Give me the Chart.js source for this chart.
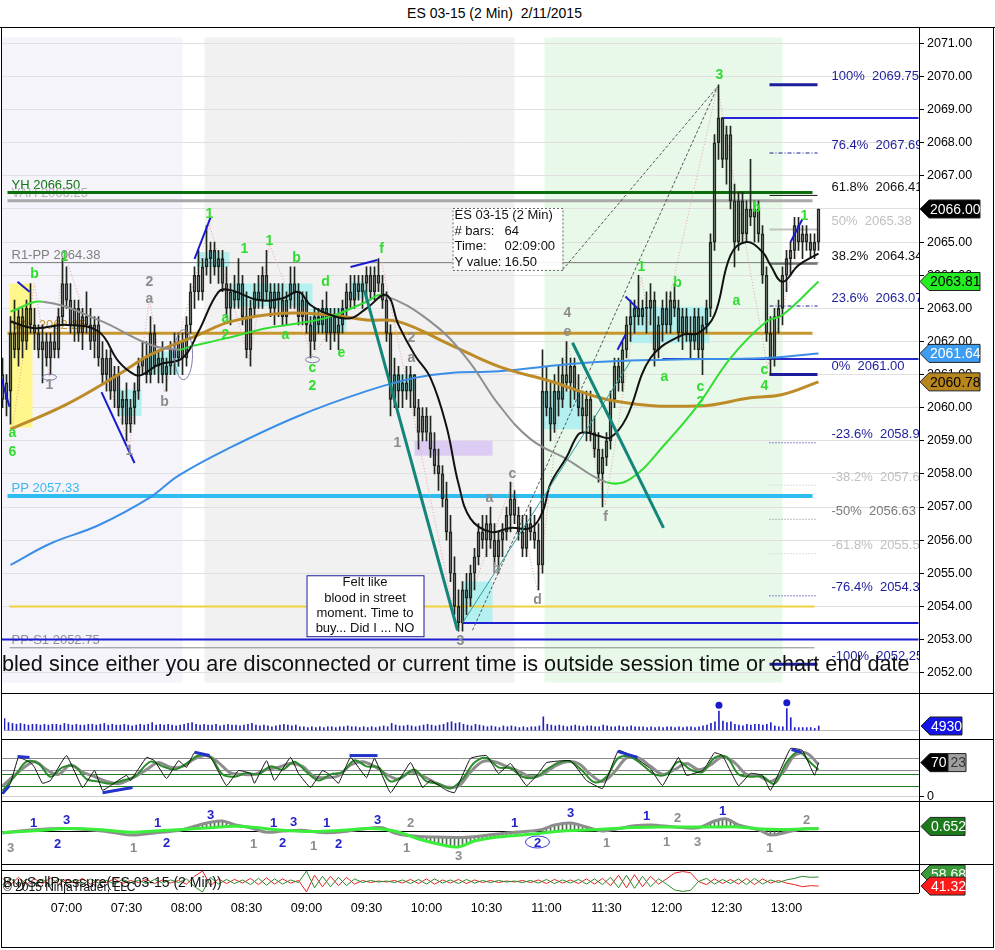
<!DOCTYPE html>
<html>
<head>
<meta charset="utf-8">
<title>ES 03-15 (2 Min) 2/11/2015</title>
<script src="https://cdn.jsdelivr.net/npm/chart.js@4.4.1/dist/chart.umd.min.js"></script>
<style>
  body { margin: 0; background: #fff; font-family: "Liberation Sans", Arial, sans-serif; }
  #wrap { position: relative; width: 995px; height: 950px; overflow: hidden; }
  canvas { position: absolute; left: 0; }
  .h { position: absolute; height: 1px; background: #000; z-index: 5; }
  .v { position: absolute; width: 1px; background: #000; z-index: 5; }
  #title { position: absolute; top: 5px; left: 0; width: 989px; text-align: center; font-size: 14px; color: #000; }
</style>
</head>
<body>
<div id="wrap">
  <div id="title">ES 03-15 (2 Min)&nbsp;&nbsp;2/11/2015</div>
  <canvas id="cPrice" width="995" height="666" style="top:27px;width:995px;height:666px"></canvas>
  <canvas id="cVol" width="995" height="46" style="top:693px;width:995px;height:46px"></canvas>
  <canvas id="cStoch" width="995" height="62" style="top:739px;width:995px;height:62px"></canvas>
  <canvas id="cMacd" width="995" height="63" style="top:801px;width:995px;height:63px"></canvas>
  <canvas id="cBsp" width="995" height="84" style="top:864px;width:995px;height:84px"></canvas>
  <div class="h" style="top:27px;left:0;width:995px"></div>
  <div class="h" style="top:693px;left:1px;width:993px"></div>
  <div class="h" style="top:739px;left:1px;width:993px"></div>
  <div class="h" style="top:801px;left:1px;width:993px"></div>
  <div class="h" style="top:864px;left:1px;width:993px"></div>
  <div class="h" style="top:870px;left:1px;width:918px"></div>
  <div class="h" style="top:893px;left:1px;width:918px"></div>
  <div class="h" style="top:947px;left:1px;width:993px"></div>
  <div class="v" style="left:1px;top:27px;height:921px"></div>
  <div class="v" style="left:993px;top:27px;height:921px"></div>
  <div class="v" style="left:919px;top:27px;height:866px"></div>
</div>
<script>
// ES 03-15 2 min chart, 2/11/2015 - bar index 0 = 06:28, one bar every 2 minutes

// ---------- axis data ----------
const timeLabels = ['07:00', '07:30', '08:00', '08:30', '09:00', '09:30', '10:00', '10:30', '11:00', '11:30', '12:00', '12:30', '13:00'];
const timeBars = [16, 31, 46, 61, 76, 91, 106, 121, 136, 151, 166, 181, 196];
const priceTicks = [2052, 2053, 2054, 2055, 2056, 2057, 2058, 2059, 2060, 2061, 2062, 2063, 2064, 2065, 2066, 2067, 2068, 2069, 2070, 2071];

// ---------- price bars ----------
const opens = [
  2061, 2060.25, 2060.5, 2062.25, 2061.75, 2062.75, 2062, 2063, 2062.5, 2062.25,
  2061.75, 2062, 2061.5, 2062, 2061.75, 2062.75, 2063.75, 2063.25, 2062.5, 2063,
  2062.25, 2062.75, 2062.5, 2062, 2062.5, 2061.5, 2061, 2061.5, 2060.5, 2061,
  2060, 2060.25, 2059.5, 2060, 2060.5, 2061.25, 2061.5, 2061, 2062.25, 2061.25,
  2061.5, 2061, 2061.25, 2061.75, 2061.5, 2062, 2061.5, 2062.5, 2063.5, 2064,
  2063.5, 2064.25, 2064.5, 2064.75, 2064.25, 2064.5, 2063.75, 2063, 2063.5, 2063.25,
  2063.75, 2062.75, 2061.75, 2063, 2063.5, 2063.25, 2064, 2063.5, 2063, 2063.5,
  2063.25, 2062.75, 2063.25, 2063.75, 2063.5, 2062.75, 2063.25, 2062.5, 2062, 2062.75,
  2062.5, 2063, 2062.25, 2062.75, 2062.25, 2062.5, 2063, 2063.5, 2063.25, 2063.75,
  2063.5, 2063.75, 2064, 2063.5, 2064, 2063.75, 2063.25, 2062.25, 2060.25, 2061,
  2060.5, 2060.75, 2060.5, 2061, 2060, 2059.25, 2059.75, 2059.25, 2058.75, 2058.25,
  2058, 2057.25, 2056.25, 2055, 2054, 2053.5, 2054.5, 2054.25, 2055, 2055.5,
  2056.25, 2056, 2056.5, 2056, 2055.5, 2056, 2056.25, 2056.75, 2057.25, 2056.75,
  2056.25, 2055.75, 2056.5, 2056.25, 2056, 2055.25, 2060.5, 2060, 2059.5, 2060.5,
  2060.25, 2061, 2060.75, 2061.25, 2060.5, 2060, 2059.75, 2060.25, 2059.25, 2058.75,
  2058, 2058.5, 2059, 2060.25, 2061.25, 2060.75, 2061.75, 2062.5, 2062.75, 2063,
  2062.75, 2063, 2063, 2063.25, 2061.75, 2062.5, 2063, 2062.5, 2063.25, 2063,
  2062.25, 2062.75, 2062.25, 2062, 2062.75, 2061.75, 2062.5, 2063, 2065, 2068,
  2068.75, 2067.5, 2068.25, 2066.25, 2065, 2066.25, 2065.25, 2066, 2065.75, 2066,
  2065.25, 2064, 2062.25, 2061.5, 2062.75, 2063, 2064, 2064.5, 2064.75, 2065.5,
  2065, 2065.25, 2065, 2064.75, 2065
];
const highs = [
  2061.5, 2061, 2062.75, 2063.25, 2063, 2063, 2063.25, 2063.75, 2063, 2062.5,
  2062.5, 2062.25, 2062.25, 2062.5, 2063, 2064.5, 2064.25, 2063.75, 2063.25, 2063.25,
  2063, 2063.5, 2063, 2062.75, 2062.75, 2062, 2061.75, 2061.75, 2061.25, 2061.25,
  2060.5, 2060.75, 2060.25, 2060.75, 2061.5, 2062, 2062, 2062.75, 2062.5, 2061.75,
  2062, 2061.5, 2062, 2062.25, 2062.25, 2062.25, 2062.75, 2063.75, 2064.25, 2064.75,
  2064.5, 2065.5, 2065, 2065, 2064.75, 2064.75, 2064.25, 2063.75, 2064, 2064.5,
  2064, 2063.5, 2063.25, 2063.75, 2064, 2064.25, 2064.75, 2063.75, 2063.75, 2063.75,
  2063.75, 2063.5, 2064.25, 2064.25, 2063.75, 2063.5, 2063.5, 2062.75, 2063, 2063,
  2063.25, 2063.5, 2063, 2063, 2063, 2063.25, 2063.75, 2064, 2064, 2064,
  2064, 2064.25, 2064.25, 2064.25, 2064.5, 2064, 2063.5, 2062.5, 2061.5, 2061.25,
  2061, 2061.25, 2061.25, 2061, 2060.25, 2060, 2060, 2059.75, 2059.25, 2058.75,
  2058.25, 2057.75, 2056.75, 2055.5, 2054.5, 2054.75, 2055, 2055.25, 2055.75, 2056.5,
  2056.75, 2056.75, 2057, 2056.5, 2056.25, 2056.5, 2057, 2057.75, 2057.5, 2057,
  2056.75, 2056.75, 2057, 2056.75, 2056.5, 2061.75, 2061.25, 2060.75, 2061, 2061.25,
  2061.5, 2062, 2061.5, 2061.5, 2061, 2060.5, 2060.5, 2060.5, 2059.75, 2059.25,
  2058.75, 2059.25, 2060.5, 2061.5, 2061.5, 2062, 2062.75, 2063.25, 2063.25, 2064,
  2063.25, 2063.5, 2063.75, 2063.5, 2062.75, 2063.25, 2063.5, 2063.5, 2063.75, 2063.25,
  2063, 2063, 2062.75, 2063, 2063, 2062.75, 2063.25, 2065.25, 2068.25, 2069.75,
  2068.75, 2068.5, 2068.5, 2066.75, 2066.5, 2066.5, 2066.25, 2067.5, 2066.25, 2066.25,
  2065.5, 2064.25, 2062.75, 2063, 2063.25, 2064.25, 2064.75, 2065, 2065.75, 2065.75,
  2065.5, 2065.5, 2065.25, 2065.25, 2066
];
const lows = [
  2060, 2059.75, 2059.5, 2061.5, 2061.25, 2061.5, 2061.75, 2062.25, 2061.75, 2061.5,
  2060.75, 2061.25, 2061, 2061.5, 2061.5, 2062.5, 2063, 2062.25, 2062, 2062,
  2061.75, 2062.25, 2061.75, 2061.5, 2061.25, 2060.75, 2060.5, 2060.25, 2060, 2059.75,
  2059.5, 2059, 2059.25, 2059.5, 2060.25, 2061, 2060.75, 2060.75, 2061, 2060.75,
  2060.75, 2060.5, 2061, 2061, 2061.25, 2061, 2061.25, 2062.25, 2063, 2063.25,
  2063.25, 2064, 2063.75, 2064, 2063.75, 2063.5, 2062.75, 2062.5, 2063, 2063,
  2062.5, 2061.5, 2061.25, 2062.75, 2063, 2063, 2063.25, 2062.75, 2062.5, 2062.75,
  2062.5, 2062.5, 2063, 2063, 2062.5, 2062.5, 2062.25, 2061.5, 2061.75, 2062.25,
  2062.25, 2062, 2061.75, 2062, 2061.75, 2062.25, 2062.75, 2063, 2063, 2063.25,
  2063, 2063.25, 2063.25, 2063.25, 2063.5, 2063, 2062, 2059.75, 2060, 2060,
  2060, 2060.25, 2060, 2059.75, 2058.75, 2059, 2059, 2058.5, 2058, 2057.5,
  2057, 2056, 2054.75, 2053.75, 2053.25, 2053.25, 2053.75, 2054, 2054.5, 2055.25,
  2055.75, 2055.5, 2055.75, 2055.25, 2055, 2055.5, 2056, 2056.25, 2056.5, 2056,
  2055.5, 2055.5, 2056, 2055.75, 2054.5, 2055, 2059.75, 2059, 2059.25, 2059.75,
  2060, 2060.5, 2060, 2060.25, 2059.75, 2059.25, 2059, 2059, 2058.5, 2057.75,
  2057, 2058.25, 2058.75, 2060, 2060.5, 2060.5, 2061.5, 2062, 2062.25, 2062.5,
  2062.5, 2062.25, 2062.5, 2061.25, 2061.5, 2062, 2062.25, 2062.25, 2062.75, 2062,
  2061.75, 2062, 2061.5, 2061.75, 2061.5, 2061, 2062.25, 2062.75, 2064.75, 2067.5,
  2067.25, 2066.75, 2066, 2064.25, 2064.75, 2065, 2065, 2065.5, 2065, 2065,
  2063.75, 2062, 2061, 2061.25, 2062.25, 2062.5, 2063.5, 2064, 2064.5, 2064.75,
  2064.5, 2064.75, 2064.5, 2064.5, 2064.75
];
const closes = [
  2060.25, 2060.75, 2062.25, 2061.75, 2062.75, 2062, 2063, 2062.5, 2062.25, 2061.75,
  2062, 2061.5, 2062, 2061.75, 2062.75, 2063.75, 2063.25, 2062.5, 2063, 2062.25,
  2062.75, 2062.5, 2062, 2062.5, 2061.5, 2061, 2061.5, 2060.5, 2061, 2060,
  2060.25, 2059.5, 2060, 2060.5, 2061.25, 2061.5, 2061, 2062.25, 2061.25, 2061.5,
  2061, 2061.25, 2061.75, 2061.5, 2062, 2061.5, 2062.5, 2063.5, 2064, 2063.5,
  2064.25, 2064.5, 2064.75, 2064.25, 2064.5, 2063.75, 2063, 2063.5, 2063.25, 2063.75,
  2062.75, 2061.75, 2063, 2063.5, 2063.25, 2064, 2063.5, 2063, 2063.5, 2063.25,
  2062.75, 2063.25, 2063.75, 2063.5, 2062.75, 2063.25, 2062.5, 2062, 2062.75, 2062.5,
  2063, 2062.25, 2062.75, 2062.25, 2062.5, 2063, 2063.5, 2063.25, 2063.75, 2063.5,
  2063.75, 2064, 2063.5, 2064, 2063.75, 2063.25, 2062.25, 2060.25, 2061, 2060.5,
  2060.75, 2060.5, 2061, 2060, 2059.25, 2059.75, 2059.25, 2058.75, 2058.25, 2058,
  2057.25, 2056.25, 2055, 2054, 2053.5, 2054.5, 2054.25, 2055, 2055.5, 2056.25,
  2056, 2056.5, 2056, 2055.5, 2056, 2056.25, 2056.75, 2057.25, 2056.75, 2056.25,
  2055.75, 2056.5, 2056.25, 2056, 2055.25, 2060.5, 2060, 2059.5, 2060.5, 2060.25,
  2061, 2060.75, 2061.25, 2060.5, 2060, 2059.75, 2060.25, 2059.25, 2058.75, 2058,
  2058.5, 2059, 2060.25, 2061.25, 2060.75, 2061.75, 2062.5, 2062.75, 2063, 2062.75,
  2063, 2063, 2063.25, 2061.75, 2062.5, 2063, 2062.5, 2063.25, 2063, 2062.25,
  2062.75, 2062.25, 2062, 2062.75, 2061.75, 2062.5, 2063, 2065, 2068, 2068.75,
  2067.5, 2068.25, 2066.25, 2065, 2066.25, 2065.25, 2066, 2065.75, 2066, 2065.25,
  2064, 2062.25, 2061.5, 2062.75, 2063, 2064, 2064.5, 2064.75, 2065.5, 2065,
  2065.25, 2065, 2064.75, 2065, 2066
];

// ---------- moving averages: [bar, price] ----------
const blackMA = [[2, 2062.6], [8, 2062.4], [16, 2062.5], [24, 2062.3], [29, 2061.4], [33, 2061.0], [35, 2061.0], [39, 2061.3], [45, 2061.5], [49, 2062.3], [54, 2063.5], [57, 2063.55], [64, 2063.25], [70, 2063.3], [74, 2063.5], [77, 2063.1], [82, 2062.8], [87, 2062.7], [91, 2063.0], [96, 2063.4], [99, 2062.5], [103, 2061.6], [107, 2060.9], [111, 2059.43], [114, 2057.7], [117, 2056.65], [122, 2056.25], [127, 2056.37], [132, 2056.37], [135, 2056.85], [137, 2057.7], [141, 2058.5], [144, 2059.2], [146, 2059.25], [149, 2059.15], [152, 2059.1], [156, 2059.7], [162, 2061.5], [170, 2062.2], [174, 2062.25], [178, 2062.8], [182, 2064.6], [186, 2065.0], [190, 2064.7], [192, 2064.3], [195, 2063.8], [199, 2064.3], [204, 2064.65]];
const slopeMA = [[2, 2062.9], [10, 2063.2], [24, 2062.65], [37, 2061.9], [44, 2061.75], [47, 2061.85], [56, 2062.1], [66, 2062.4], [74, 2062.55], [82, 2062.75], [91, 2063.2], [95, 2063.4], [107, 2062.6], [116, 2061.5], [124, 2060.1], [132, 2059.05], [141, 2058.45], [151, 2057.75], [157, 2057.85], [166, 2058.95], [174, 2060.1], [182, 2061.5], [191, 2062.6], [195, 2062.8], [204, 2063.81]];
const goldMA = [[2, 2059.35], [16, 2060.1], [29, 2061.0], [37, 2061.6], [49, 2062.2], [57, 2062.6], [70, 2062.85], [82, 2062.8], [91, 2062.65], [99, 2062.6], [112, 2061.9], [124, 2061.25], [137, 2060.8], [153, 2060.2], [174, 2060.05], [187, 2060.3], [195, 2060.4], [204, 2060.78]];
const blueMA = [[2, 2055.25], [12, 2055.9], [24, 2056.45], [37, 2057.3], [44, 2057.95], [57, 2058.8], [74, 2059.75], [91, 2060.5], [103, 2060.9], [112, 2061.05], [124, 2061.1], [145, 2061.35], [166, 2061.45], [191, 2061.5], [204, 2061.64]];

// ---------- horizontal levels ----------
const levelPrices = [2066.50, 2066.25, 2064.38, 2062.25, 2057.33, 2054.00, 2053.50, 2053.00, 2052.75, 2068.75, 2061.47];
const levelFrom = [1.25, 1.25, 1.75, 1.25, 1.25, 1.75, 115, -0.25, 1.75, 179.75, 165];
const levelTo = [202.5, 202.5, 204, 202.5, 202.5, 203, 229, 229, 203, 229, 229];
const levelText = ['YH 2066.50', 'VAH 2066.25', 'R1-PP 2064.38', 'VAL 2062.25', 'PP 2057.33', '', '', '', 'PP-S1 2052.75', '', ''];

// ---------- fibonacci ----------
const fibPcts = ['100%', '76.4%', '61.8%', '50%', '38.2%', '23.6%', '0%', '-23.6%', '-38.2%', '-50%', '-61.8%', '-76.4%', '-100%'];
const fibPrices = [2069.75, 2067.69, 2066.41, 2065.38, 2064.34, 2063.07, 2061.00, 2058.94, 2057.66, 2056.63, 2055.59, 2054.32, 2052.25];

// ---------- drawn objects: [bar, price, ...] ----------
const zones = [[28.75, 34.75, 2060.55, 2059.75, 'c'], [36, 44.25, 2061.7, 2061.0, 'c'], [48.5, 56.75, 2064.7, 2064.25, 'c'], [56.75, 77.5, 2063.75, 2063.05, 'c'], [76.75, 86, 2063.0, 2062.2, 'c'], [86.75, 91, 2063.8, 2063.3, 'c'], [97.5, 103, 2061.0, 2060.5, 'c'], [135, 145, 2060.5, 2059.35, 'c'], [115, 122.5, 2054.75, 2053.5, 'c'], [156.75, 176.75, 2063.05, 2061.95, 'c'], [103, 122.5, 2059.0, 2058.55, 'p'], [1.75, 7.5, 2063.75, 2059.4, 'y']];
const tealLines = [[90.5, 2063.54, 113.75, 2053.28], [142.5, 2061.96, 165.25, 2056.37]];
const blueLines = [[-0.75, 2061.07, 1.75, 2060.03], [3.75, 2063.8, 6.75, 2063.5], [24.75, 2060.47, 33, 2058.33], [48, 2064.49, 52, 2065.74], [87, 2064.25, 93.75, 2064.46], [155.75, 2063.36, 158.75, 2063.0], [153.75, 2061.75, 155.75, 2062.2], [197, 2065.0, 200, 2065.7]];
const channelLines = [[115, 2053.5, 157, 2061.4]];
const dashedLines = [[117.5, 2053.28, 178.75, 2069.69], [140, 2064.16, 178.75, 2069.69]];
const zigzag = [[2.5, 2059.43], [8, 2063.74], [11.75, 2060.92], [15.5, 2064.64], [31.75, 2058.84], [36.75, 2063.3], [40.5, 2060.47], [51.75, 2065.53], [61.75, 2061.45], [66.75, 2064.93], [77.5, 2061.57], [94.75, 2064.43], [113.75, 2053.28], [127.5, 2057.74], [133.75, 2054.47], [141.25, 2061.96], [150.75, 2057.05], [159.75, 2063.95], [163, 2061.37], [178.75, 2069.69], [191.25, 2061.22], [200.5, 2065.53]];
const ellipseCenters = [[11.75, 2060.92], [45.25, 2061.6], [77.5, 2061.45]];
const waveLabels = [
  [8, 2064.04, 'b', 'g'], [15.5, 2064.55, '1', 'g'], [2.5, 2059.22, 'a', 'g'], [2.5, 2058.66, '6', 'g'],
  [51.75, 2065.83, '1', 'g'], [60.5, 2064.79, '1', 'g'], [66.75, 2065.02, '1', 'g'], [73.5, 2064.52, 'b', 'g'],
  [80.75, 2063.8, 'd', 'g'], [94.75, 2064.79, 'f', 'g'], [55.75, 2062.7, 'a', 'g'], [55.75, 2062.2, '2', 'g'],
  [70.75, 2062.2, 'a', 'g'], [84.75, 2061.66, 'e', 'g'], [77.5, 2061.19, 'c', 'g'], [77.5, 2060.65, '2', 'g'],
  [179.25, 2070.05, '3', 'g'], [159.75, 2064.25, '1', 'g'], [168.75, 2063.77, 'b', 'g'], [165.5, 2060.92, 'a', 'g'],
  [174.5, 2060.62, 'c', 'g'], [174.5, 2060.18, '2', 'g'], [183.5, 2063.21, 'a', 'g'], [188.5, 2066.03, 'b', 'g'],
  [190.5, 2061.13, 'c', 'g'], [190.5, 2060.65, '4', 'g'], [200.5, 2065.77, '1', 'g'],
  [36.75, 2063.8, '2', 'r'], [36.75, 2063.27, 'a', 'r'], [11.75, 2060.68, '1', 'r'], [40.5, 2060.18, 'b', 'r'],
  [31.75, 2058.69, '1', 'r'], [102.25, 2062.11, '2', 'r'], [102.25, 2061.51, 'a', 'r'], [98.75, 2058.93, '1', 'r'],
  [114.5, 2052.95, '3', 'r'], [121.75, 2057.26, 'a', 'r'], [123.5, 2055.12, 'b', 'r'], [127.5, 2058.0, 'c', 'r'],
  [133.75, 2054.2, 'd', 'r'], [141.25, 2062.85, '4', 'r'], [141.25, 2062.29, 'e', 'r'], [150.75, 2056.7, 'f', 'r']
];
const noteBox = [76, 105.25, 2054.94, 2053.10];
const noteLines = ['Felt like', 'blood in street', 'moment. Time to', 'buy... Did I ... NO'];
const infoBox = [112.5, 140, 2066.03, 2064.16];
const infoKeys = ['ES 03-15 (2 Min)', '# bars:', 'Time:', 'Y value:'];
const infoVals = ['', '64', '02:09:00', '16.50'];
const sessionText = 'bled since either you are disconnected or current time is outside session time or chart end date';
const sessionBands = [[-0.25, 45], [50.5, 128], [135.5, 195]];
const priceTags = [2066.00, 2063.81, 2061.64, 2060.78];

// ---------- volume ----------
const volumes = [
  14, 9, 8, 7, 8, 7, 6, 7, 7, 6, 7, 6, 7, 7, 6, 8, 7, 6, 7, 6,
  6, 7, 7, 6, 7, 8, 6, 7, 6, 6, 7, 6, 5, 6, 7, 6, 7, 9, 6, 7,
  6, 7, 6, 5, 6, 7, 8, 9, 7, 6, 7, 6, 6, 7, 5, 6, 7, 6, 6, 5,
  6, 7, 8, 6, 5, 6, 5, 4, 5, 6, 7, 6, 5, 6, 4, 4, 3, 4, 3, 4,
  3, 4, 4, 3, 4, 4, 5, 4, 4, 3, 4, 3, 4, 3, 4, 5, 4, 8, 6, 5,
  5, 6, 5, 4, 5, 6, 7, 6, 5, 6, 7, 9, 10, 8, 9, 7, 6, 5, 7, 6,
  5, 4, 5, 4, 3, 5, 4, 5, 4, 3, 4, 3, 4, 4, 5, 16, 7, 6, 5, 6,
  5, 4, 5, 6, 5, 4, 5, 5, 4, 4, 6, 5, 4, 4, 5, 4, 4, 5, 4, 4,
  4, 3, 4, 3, 4, 3, 4, 4, 3, 4, 3, 4, 4, 3, 4, 5, 6, 8, 10, 23,
  11, 9, 10, 7, 6, 5, 7, 6, 7, 7, 6, 7, 9, 5, 4, 4, 26, 15, 3, 3,
  3, 3, 3, 2, 4.93
];
const volDotBars = [179, 196];
const volDotValues = [30, 33];

// ---------- stochastics: [bar, value] ----------
const stochK = [[0, 4], [2, 26], [4, 81], [7, 70], [8, 60], [10, 26], [12, 32], [16, 85], [20, 17], [23, 53], [25, 11], [27, 21], [31, 43], [32, 32], [36, 81], [38, 74], [41, 36], [44, 74], [46, 60], [48, 91], [52, 81], [56, 21], [59, 53], [62, 47], [63, 26], [66, 74], [68, 32], [72, 81], [74, 47], [77, 17], [80, 53], [82, 43], [84, 26], [87, 81], [91, 38], [93, 79], [97, 6], [102, 70], [105, 17], [107, 32], [111, 11], [113, 6], [117, 79], [121, 85], [124, 47], [127, 68], [131, 21], [134, 47], [136, 70], [142, 74], [146, 32], [150, 15], [154, 96], [158, 81], [162, 57], [165, 21], [169, 81], [171, 43], [175, 53], [176, 64], [178, 91], [180, 85], [184, 21], [187, 47], [190, 43], [192, 11], [197, 100], [200, 96], [203, 43], [204, 70]];
const stochD = [[0, 10], [3, 40], [6, 72], [9, 68], [12, 40], [15, 60], [18, 62], [21, 35], [24, 30], [27, 25], [30, 32], [33, 40], [37, 72], [40, 62], [43, 55], [46, 68], [49, 85], [52, 82], [55, 45], [58, 40], [61, 48], [64, 45], [67, 62], [70, 55], [73, 72], [76, 50], [79, 32], [82, 45], [85, 50], [88, 75], [91, 62], [94, 60], [97, 30], [100, 40], [103, 55], [106, 30], [109, 25], [112, 15], [115, 35], [118, 70], [121, 80], [124, 60], [127, 58], [130, 40], [133, 38], [136, 55], [139, 70], [142, 72], [145, 52], [148, 28], [151, 40], [154, 80], [157, 82], [160, 65], [163, 45], [166, 45], [169, 72], [172, 55], [175, 50], [178, 80], [181, 82], [184, 45], [187, 40], [190, 40], [193, 25], [196, 70], [199, 93], [202, 70], [204, 55]];
const stochSlow = [[0, 20], [4, 50], [8, 72], [11, 55], [14, 45], [17, 65], [20, 50], [23, 40], [26, 30], [29, 25], [32, 35], [36, 55], [39, 70], [42, 60], [45, 62], [48, 78], [51, 85], [54, 70], [57, 48], [60, 45], [63, 45], [66, 55], [69, 60], [72, 68], [75, 62], [78, 40], [81, 38], [84, 42], [87, 65], [90, 72], [93, 62], [96, 45], [99, 35], [102, 50], [105, 42], [108, 28], [111, 18], [114, 20], [117, 50], [120, 72], [123, 72], [126, 62], [129, 52], [132, 40], [135, 45], [138, 62], [141, 72], [144, 68], [147, 45], [150, 30], [153, 50], [156, 80], [159, 80], [162, 62], [165, 45], [168, 55], [171, 68], [174, 55], [177, 65], [180, 82], [183, 70], [186, 45], [189, 42], [192, 30], [195, 48], [198, 85], [201, 90], [204, 66]];
const stochLevels = [80, 55, 45, 20, 0];
const stochMarks = [[0, 4, 1.75, 21], [3.75, 83, 6.75, 81], [25, 6, 32.5, 17], [48, 92, 51.75, 85], [86.75, 85, 93.75, 85], [153.75, 94, 158.75, 81], [197.25, 98, 199.75, 92]];

// ---------- macd style panel: [bar, value] ----------
const macdGray = [[0, -0.5], [8, 0.3], [16, 0.6], [25, 0], [32, -1.0], [38, -0.5], [45, 0.3], [48, 1.2], [52, 2.2], [55, 2.5], [58, 1.6], [62, 0.8], [66, -0.3], [70, 0], [75, 0.2], [80, -0.4], [85, -0.2], [90, 0.5], [95, 0.8], [98, -0.5], [102, -1.2], [108, -1.5], [115, -1.6], [120, -1.2], [125, -0.6], [130, -0.2], [135, 0.4], [138, 1.5], [142, 2.0], [146, 1.0], [150, 0.0], [154, 0.6], [158, 1.3], [162, 1.5], [168, 1.0], [174, 0.8], [178, 2.5], [181, 3.0], [184, 1.5], [189, 0.3], [192, -1.0], [196, -0.3], [200, 0.5], [204, 0.6]];
const macdGreen = [[0, -0.4], [10, 0.2], [16, 0.6], [25, 0.3], [32, -0.3], [38, 0], [45, 0.4], [52, 0.8], [58, 1.2], [64, 0.8], [70, 0.2], [78, -0.1], [85, 0.2], [92, 0.6], [98, 0], [104, -2.0], [110, -3.5], [114, -4.0], [118, -2.5], [124, -1.5], [130, -1.0], [134, -0.6], [140, 0], [148, 0.3], [156, 0.8], [164, 1.0], [172, 1.0], [178, 1.0], [184, 1.0], [190, 0.5], [196, 0.4], [204, 0.652]];
const hatchBars = [46, 47, 48, 49, 50, 51, 52, 53, 54, 55, 56, 57,
  102, 103, 104, 105, 106, 107, 108, 109, 110, 111, 112, 113, 114, 115, 116, 117, 118, 119, 120, 121, 122, 123, 124, 125, 126, 127,
  135, 136, 137, 138, 139, 140, 141, 142, 143, 144, 145, 146,
  177, 178, 179, 180, 181, 182, 183, 184,
  190, 191, 192, 193, 194, 195];
const hatchLow = [0.45, 0.5, 0.55, 0.6, 0.65, 0.75, 0.8, 0.85, 0.9, 0.95, 1.0, 1.05,
  -1.3, -1.65, -2.0, -2.25, -2.5, -2.75, -3.0, -3.25, -3.5, -3.6, -3.75, -3.9, -4.0, -3.7, -3.4, -3.0, -2.5, -2.35, -2.2, -2.05, -1.9, -1.7, -1.5, -1.45, -1.4, -1.35,
  -0.55, -0.5, -0.4, -0.3, -0.25, 0, 0.03, 0.07, 0.1, 0.15, 0.18, 0.2,
  1.0, 1.0, 1.0, 1.0, 1.0, 1.0, 1.0, 1.0,
  0.0, -0.5, -1.0, -0.8, -0.6, -0.45];
const hatchHigh = [0.7, 0.95, 1.2, 1.45, 1.7, 1.95, 2.2, 2.3, 2.4, 2.5, 2.2, 1.9,
  -1.2, -1.25, -1.3, -1.35, -1.4, -1.45, -1.5, -1.5, -1.5, -1.52, -1.55, -1.57, -1.6, -1.6, -1.55, -1.5, -1.45, -1.4, -1.3, -1.2, -1.1, -0.95, -0.85, -0.7, -0.6, -0.5,
  0.4, 0.75, 1.1, 1.5, 1.65, 1.8, 1.9, 2.0, 1.75, 1.5, 1.25, 1.0,
  2.0, 2.5, 2.7, 2.85, 3.0, 2.5, 2.0, 1.5,
  0.5, 0.47, 0.45, 0.43, 0.42, 0.4];
const macdLabels = [[7.75, 2, '1', 'b'], [16, 2.75, '3', 'b'], [13.75, -3.25, '2', 'b'], [38.75, 2, '1', 'b'], [41, -3, '2', 'b'], [52, 4, '3', 'b'], [67.75, 2, '1', 'b'], [72.75, 2.25, '3', 'b'], [70, -3, '2', 'b'], [81, 2, '1', 'b'], [84, -3.25, '2', 'b'], [93.75, 2.75, '3', 'b'], [128, 2, '1', 'b'], [133.75, -3, '2', 'b'], [142, 4.5, '3', 'b'], [161, 3.75, '1', 'b'], [180, 5, '1', 'b'],
  [2, -4.25, '3', 'r'], [32.75, -4.25, '1', 'r'], [62.75, -3.25, '1', 'r'], [77.75, -3.75, '1', 'r'], [102, 2, '2', 'r'], [101, -4.25, '1', 'r'], [114, -6.25, '3', 'r'], [151, -3, '1', 'r'], [168.75, 3.25, '2', 'r'], [166, -2.75, '1', 'r'], [173.75, -2.75, '3', 'r'], [191.75, -4.25, '1', 'r'], [201, 2.75, '2', 'r']];
const macdEllipse = [133.75, -2.75];

// ---------- buy/sell pressure, one value every second bar ----------
const bspRed = [56, 44, 58, 45, 55, 46, 57, 45, 54, 47, 56, 45, 53, 48, 55, 46, 52, 48, 54, 46,
  53, 47, 52, 45, 60, 70, 42, 55, 46, 54, 47, 56, 44, 57, 45, 55, 47, 52, 30, 62,
  40, 60, 42, 58, 45, 52, 48, 51, 49, 52, 47, 54, 46, 55, 45, 53, 47, 54, 46, 53,
  48, 52, 48, 51, 49, 52, 48, 53, 46, 54, 47, 53, 46, 55, 45, 56, 42, 62, 38, 63,
  40, 60, 45, 55, 66, 69, 67, 50, 44, 55, 46, 54, 45, 56, 44, 55, 47, 52, 47, 44,
  40, 42, 41.32];
const bspGreen = [44, 56, 42, 55, 45, 54, 43, 55, 46, 53, 44, 55, 47, 52, 45, 54, 48, 52, 46, 54,
  47, 53, 48, 55, 40, 30, 58, 45, 54, 46, 53, 44, 56, 43, 55, 45, 53, 48, 70, 38,
  60, 40, 58, 42, 55, 48, 52, 49, 51, 48, 53, 46, 54, 45, 55, 47, 53, 46, 54, 47,
  52, 48, 52, 49, 51, 48, 52, 47, 54, 46, 53, 47, 54, 45, 55, 44, 58, 38, 62, 37,
  60, 40, 55, 45, 34, 31, 33, 50, 56, 45, 54, 46, 55, 44, 56, 45, 53, 48, 53, 56,
  60, 58, 58.68];

// ================= drawing =================
const FONT = '"Liberation Sans", Arial, sans-serif';
// 4 px per bar, bar centres on half pixels so 3 px candle bodies stay crisp
const X_MIN = -0.125, X_MAX = 229.125;
Chart.defaults.font.family = FONT;
Chart.defaults.plugins.legend.display = false;
Chart.defaults.plugins.tooltip.enabled = false;

const pts = arr => arr.map(p => ({ x: p[0], y: p[1] }));

function clipArea(ctx, a) {
  ctx.save();
  ctx.beginPath();
  ctx.rect(a.left, a.top, a.right - a.left, a.bottom - a.top);
  ctx.clip();
}

function line(ctx, x0, y0, x1, y1, color, width, dash) {
  ctx.beginPath();
  ctx.setLineDash(dash || []);
  ctx.strokeStyle = color;
  ctx.lineWidth = width;
  ctx.moveTo(x0, y0);
  ctx.lineTo(x1, y1);
  ctx.stroke();
  ctx.setLineDash([]);
}

function drawTag(ctx, x, y, w, text, bg, fg) {
  ctx.save();
  ctx.beginPath();
  ctx.moveTo(x, y);
  ctx.lineTo(x + 9, y - 9);
  ctx.lineTo(x + w, y - 9);
  ctx.lineTo(x + w, y + 9);
  ctx.lineTo(x + 9, y + 9);
  ctx.closePath();
  ctx.fillStyle = bg;
  ctx.fill();
  ctx.strokeStyle = '#222';
  ctx.lineWidth = 1;
  ctx.stroke();
  ctx.fillStyle = fg;
  ctx.font = '14px ' + FONT;
  ctx.textAlign = 'left';
  ctx.textBaseline = 'middle';
  ctx.fillText(text, x + 10, y + 1);
  ctx.restore();
}

function baseOptions(yMin, yMax, pad, yExtra, xExtra) {
  return {
    responsive: false,
    devicePixelRatio: 1,
    animation: false,
    events: [],
    layout: { padding: pad },
    scales: {
      x: Object.assign({ type: 'linear', min: X_MIN, max: X_MAX, offset: false, display: false }, xExtra || {}),
      y: Object.assign({
        position: 'right', min: yMin, max: yMax,
        afterFit: s => { s.width = 76; },
        ticks: { display: false }, grid: { display: false }, border: { display: false }
      }, yExtra || {})
    }
  };
}

// ---------- price panel ----------
const bandColors = ['#f4f4fa', '#f1f1f1', '#e9f9e9'];
const zoneColors = { c: '#b4f0f0', p: '#dccbf2', y: '#fff68c' };
const levelColors = ['#0b6e0b', '#a9a9a9', '#7a7a7a', '#c8962e', '#2ebdf0', '#f2d23a', '#1e1ed2', '#1e1ed2', '#8a8a8a', '#2424dd', '#2a2ac8'];
const levelWidths = [3, 3, 1, 3, 4, 2, 2, 2, 1, 2, 2];
const levelTextColors = ['#117711', '#b4b4b4', '#808080', '#c8982e', '#3ab8ee', '', '', '', '#909090', '', ''];
const fibColors = ['#1c1c9c', '#1c1c9c', '#111', '#c0c0c0', '#111', '#1c1c9c', '#1c1c9c', '#1c1c9c', '#c0c0c0', '#7a7a7a', '#c0c0c0', '#1c1c9c', '#1c1c9c'];
const fibWidths = [3, 1, 1, 2, 1, 1, 3, 1, 1, 1, 1, 1, 3];
const fibDash = [null, [4, 2, 1, 2], null, null, null, [4, 2, 1, 2], null, [1, 2], [1, 2], [1, 2], [1, 2], [1, 2], null];
const ellipseSizes = [[7, 3], [9, 25], [7, 3]];
const priceTagStyle = [['#000', '#fff'], ['#22ee22', '#000'], ['#3d9df2', '#fff'], ['#b8861e', '#000']];

const pricePlugin = {
  id: 'pricePanel',
  beforeDraw(chart) {
    const { ctx, chartArea: a, scales: { x } } = chart;
    ctx.save();
    sessionBands.forEach((b, k) => {
      const x0 = Math.max(a.left, x.getPixelForValue(b[0]));
      const x1 = Math.min(a.right, x.getPixelForValue(b[1]));
      ctx.fillStyle = bandColors[k];
      ctx.fillRect(x0, a.top, x1 - x0, a.bottom - a.top);
    });
    ctx.restore();
  },
  beforeDatasetsDraw(chart) {
    const { ctx, chartArea: a, scales: { x, y } } = chart;
    clipArea(ctx, a);
    zones.forEach(z => {
      const x0 = x.getPixelForValue(z[0]), x1 = x.getPixelForValue(z[1]);
      const y0 = y.getPixelForValue(z[2]), y1 = y.getPixelForValue(z[3]);
      ctx.fillStyle = zoneColors[z[4]];
      ctx.fillRect(x0, y0, x1 - x0, y1 - y0);
    });
    // level names sit behind the lines
    ctx.font = '13px ' + FONT;
    ctx.textAlign = 'left';
    ctx.textBaseline = 'bottom';
    levelText.forEach((t, k) => {
      if (!t) return;
      ctx.fillStyle = levelTextColors[k];
      ctx.fillText(t, x.getPixelForValue(2.25), y.getPixelForValue(levelPrices[k]) - 1);
    });
    levelPrices.forEach((p, k) => {
      const yy = y.getPixelForValue(p);
      line(ctx, x.getPixelForValue(levelFrom[k]), yy, x.getPixelForValue(levelTo[k]), yy, levelColors[k], levelWidths[k]);
    });
    fibPrices.forEach((p, k) => {
      const yy = y.getPixelForValue(p);
      line(ctx, x.getPixelForValue(191.75), yy, x.getPixelForValue(203.75), yy, fibColors[k], fibWidths[k], fibDash[k]);
    });
    // zigzag
    ctx.beginPath();
    ctx.setLineDash([1, 2]);
    ctx.strokeStyle = '#e9a3a3';
    ctx.lineWidth = 1;
    zigzag.forEach((p, k) => {
      const px = x.getPixelForValue(p[0]), py = y.getPixelForValue(p[1]);
      if (k === 0) ctx.moveTo(px, py); else ctx.lineTo(px, py);
    });
    ctx.stroke();
    ctx.setLineDash([]);
    dashedLines.forEach(l => line(ctx, x.getPixelForValue(l[0]), y.getPixelForValue(l[1]), x.getPixelForValue(l[2]), y.getPixelForValue(l[3]), '#555', 1, [3, 2]));
    ctx.restore();
  },
  afterDatasetsDraw(chart) {
    const { ctx, chartArea: a, scales: { x, y } } = chart;
    clipArea(ctx, a);
    channelLines.forEach(l => line(ctx, x.getPixelForValue(l[0]), y.getPixelForValue(l[1]), x.getPixelForValue(l[2]), y.getPixelForValue(l[3]), '#2f9c9c', 1));
    tealLines.forEach(l => line(ctx, x.getPixelForValue(l[0]), y.getPixelForValue(l[1]), x.getPixelForValue(l[2]), y.getPixelForValue(l[3]), '#13857a', 3));
    blueLines.forEach(l => line(ctx, x.getPixelForValue(l[0]), y.getPixelForValue(l[1]), x.getPixelForValue(l[2]), y.getPixelForValue(l[3]), '#1a1ad0', 2));
    // ellipses
    ctx.strokeStyle = '#7c7ca6';
    ctx.lineWidth = 1;
    ellipseCenters.forEach((c, k) => {
      ctx.beginPath();
      ctx.ellipse(x.getPixelForValue(c[0]), y.getPixelForValue(c[1]), ellipseSizes[k][0], ellipseSizes[k][1], 0, 0, Math.PI * 2);
      ctx.stroke();
    });
    // wave labels
    ctx.font = 'bold 14px ' + FONT;
    ctx.textAlign = 'center';
    ctx.textBaseline = 'middle';
    waveLabels.forEach(l => {
      ctx.fillStyle = l[3] === 'g' ? '#2fdc2f' : '#8c8c8c';
      ctx.fillText(l[2], x.getPixelForValue(l[0]), y.getPixelForValue(l[1]));
    });
    // info box
    let bx0 = x.getPixelForValue(infoBox[0]), bx1 = x.getPixelForValue(infoBox[1]);
    let by0 = y.getPixelForValue(infoBox[2]), by1 = y.getPixelForValue(infoBox[3]);
    ctx.fillStyle = 'rgba(255,255,255,0.92)';
    ctx.fillRect(bx0, by0, bx1 - bx0, by1 - by0);
    ctx.setLineDash([2, 2]);
    ctx.strokeStyle = '#666';
    ctx.strokeRect(bx0 + 0.5, by0 + 0.5, bx1 - bx0, by1 - by0);
    ctx.setLineDash([]);
    ctx.font = '13px ' + FONT;
    ctx.textAlign = 'left';
    ctx.fillStyle = '#111';
    const lh = (by1 - by0) / 4;
    infoKeys.forEach((t, k) => {
      ctx.fillText(t, bx0 + 2, by0 + lh * (k + 0.5));
      if (infoVals[k]) ctx.fillText(infoVals[k], bx0 + 52, by0 + lh * (k + 0.5));
    });
    // note box
    bx0 = x.getPixelForValue(noteBox[0]); bx1 = x.getPixelForValue(noteBox[1]);
    by0 = y.getPixelForValue(noteBox[2]); by1 = y.getPixelForValue(noteBox[3]);
    ctx.fillStyle = '#fff';
    ctx.fillRect(bx0, by0, bx1 - bx0, by1 - by0);
    ctx.strokeStyle = '#1c1c9c';
    ctx.strokeRect(bx0 + 0.5, by0 + 0.5, bx1 - bx0, by1 - by0);
    ctx.fillStyle = '#111';
    ctx.textAlign = 'center';
    const nh = (by1 - by0) / 4;
    noteLines.forEach((t, k) => ctx.fillText(t, (bx0 + bx1) / 2, by0 + nh * (k + 0.5)));
    // fib texts (cut at the axis like the original)
    ctx.textAlign = 'left';
    fibPcts.forEach((t, k) => {
      ctx.fillStyle = fibColors[k];
      ctx.fillText(t + '  ' + fibPrices[k].toFixed(2), x.getPixelForValue(207.25), y.getPixelForValue(fibPrices[k]) - 8);
    });
    // session message across the bottom
    ctx.font = '20px ' + FONT;
    const w = ctx.measureText(sessionText).width;
    const size = 20 * 908 / w;
    ctx.font = size.toFixed(2) + 'px ' + FONT;
    ctx.fillStyle = '#111';
    ctx.textBaseline = 'alphabetic';
    ctx.fillText(sessionText, a.left, a.bottom - 12);
    ctx.restore();
  },
  afterDraw(chart) {
    const { ctx, chartArea: a, scales: { y } } = chart;
    priceTags.forEach((v, k) => drawTag(ctx, a.right + 1, y.getPixelForValue(v), 60, v.toFixed(2), priceTagStyle[k][0], priceTagStyle[k][1]));
  }
};

const idx = opens.map((_, i) => i);
const priceOpts = baseOptions(2071 - 649 / 33.63, 2071 + 6 / 33.63, { left: 2, top: 8, bottom: 3, right: 0 }, {
  afterBuildTicks: s => { s.ticks = priceTicks.map(v => ({ value: v })); },
  ticks: { display: true, autoSkip: false, color: '#000', padding: 3, font: { size: 12.5 }, callback: v => Number(v).toFixed(2) },
  grid: { display: true, color: '#e0e0e0', tickColor: '#000', tickLength: 5, drawTicks: true },
  border: { display: false }
});

new Chart(document.getElementById('cPrice'), {
  type: 'bar',
  data: {
    datasets: [
      { type: 'line', data: pts(blackMA), borderColor: '#111', borderWidth: 2, pointRadius: 0, tension: 0.4, order: 0 },
      { type: 'line', data: pts(slopeMA), borderColor: '#33dd33', borderWidth: 2, pointRadius: 0, tension: 0.4, order: 1,
        segment: { borderColor: c => (c.p1.parsed.y >= c.p0.parsed.y ? '#33dd33' : '#8f8f8f') } },
      { type: 'line', data: pts(goldMA), borderColor: '#bd8c28', borderWidth: 3, pointRadius: 0, tension: 0.4, order: 2 },
      { type: 'line', data: pts(blueMA), borderColor: '#3a8ee8', borderWidth: 2, pointRadius: 0, tension: 0.4, order: 3 },
      // hollow candle bodies, wicks stop at the body
      { type: 'bar', data: idx.map(i => ({ x: i, y: [opens[i], closes[i]] })),
        backgroundColor: 'rgba(0,0,0,0)',
        borderColor: '#1e261e', borderWidth: 1, borderSkipped: false, barThickness: 3, minBarLength: 1, grouped: false, order: 10 },
      { type: 'bar', data: idx.map(i => ({ x: i, y: [Math.max(opens[i], closes[i]), highs[i]] })),
        backgroundColor: '#1e261e', barThickness: 1, grouped: false, order: 11 },
      { type: 'bar', data: idx.map(i => ({ x: i, y: [lows[i], Math.min(opens[i], closes[i])] })),
        backgroundColor: '#1e261e', barThickness: 1, grouped: false, order: 11 }
    ]
  },
  options: priceOpts,
  plugins: [pricePlugin]
});

// ---------- volume panel ----------
new Chart(document.getElementById('cVol'), {
  type: 'bar',
  data: {
    datasets: [
      { type: 'line', data: volDotBars.map((b, k) => ({ x: b, y: volDotValues[k] })), showLine: false,
        pointRadius: 3.5, pointBackgroundColor: '#1a1acc', pointBorderWidth: 0, order: 0 },
      { type: 'bar', data: volumes.map((v, i) => ({ x: i, y: v })), backgroundColor: '#2222c2', barThickness: 1, grouped: false, order: 1 }
    ]
  },
  options: baseOptions(-6, 40, { left: 2, top: 0, bottom: 0, right: 0 }),
  plugins: [{
    id: 'volPanel',
    beforeDatasetsDraw(chart) {
      const { ctx, chartArea: a, scales: { y } } = chart;
      ctx.save();
      line(ctx, a.left, y.getPixelForValue(0) + 0.5, a.right, y.getPixelForValue(0) + 0.5, '#b8b8b8', 1);
      ctx.restore();
    },
    afterDraw(chart) {
      const { ctx, chartArea: a, scales: { y } } = chart;
      drawTag(ctx, a.right + 2, y.getPixelForValue(volumes[volumes.length - 1]), 41, '4930', '#1414e6', '#fff');
    }
  }]
});

// ---------- stochastics panel ----------
const stochLevelColors = ['#8a8a8a', '#8a8a8a', '#1f7a1f', '#1f7a1f', '#d0d0d0'];
new Chart(document.getElementById('cStoch'), {
  type: 'line',
  data: {
    datasets: [
      { data: pts(stochK), borderColor: '#111', borderWidth: 1, pointRadius: 0, tension: 0.1, order: 0 },
      { data: pts(stochD), borderColor: '#2c8c2c', borderWidth: 2, pointRadius: 0, tension: 0.35, order: 1 },
      { data: pts(stochSlow), borderColor: '#8d8d8d', borderWidth: 3, pointRadius: 0, tension: 0.35, order: 2 }
    ]
  },
  options: baseOptions(-11.7, 120.2, { left: 2, top: 0, bottom: 0, right: 0 }),
  plugins: [{
    id: 'stochPanel',
    beforeDatasetsDraw(chart) {
      const { ctx, chartArea: a, scales: { y } } = chart;
      ctx.save();
      stochLevels.forEach((v, k) => {
        const yy = Math.round(y.getPixelForValue(v)) + 0.5;
        line(ctx, a.left, yy, a.right, yy, stochLevelColors[k], 1);
      });
      ctx.restore();
    },
    afterDatasetsDraw(chart) {
      const { ctx, chartArea: a, scales: { x, y } } = chart;
      clipArea(ctx, a);
      stochMarks.forEach(m => line(ctx, x.getPixelForValue(m[0]), y.getPixelForValue(m[1]), x.getPixelForValue(m[2]), y.getPixelForValue(m[3]), '#2233cc', 3));
      ctx.restore();
    },
    afterDraw(chart) {
      const { ctx, chartArea: a, scales: { y } } = chart;
      // zero tick and label on the axis
      const y0 = Math.round(y.getPixelForValue(0)) + 0.5;
      ctx.save();
      line(ctx, a.right, y0, a.right + 5, y0, '#000', 1);
      ctx.fillStyle = '#000';
      ctx.font = '12.5px ' + FONT;
      ctx.textAlign = 'left';
      ctx.textBaseline = 'middle';
      ctx.fillText('0', a.right + 8, y0);
      ctx.restore();
      const yy = y.getPixelForValue(stochK[stochK.length - 1][1]);
      drawTag(ctx, a.right + 2, yy, 45, '     23', '#a0a0a0', '#333');
      drawTag(ctx, a.right + 2, yy, 27, '70', '#000', '#fff');
    }
  }]
});

// ---------- macd panel ----------
new Chart(document.getElementById('cMacd'), {
  type: 'bar',
  data: {
    datasets: [
      { type: 'line', data: pts(macdGreen), borderColor: '#3cee3c', borderWidth: 3, pointRadius: 0, tension: 0.35, order: 0 },
      { type: 'line', data: pts(macdGray), borderColor: '#8d8d8d', borderWidth: 3, pointRadius: 0, tension: 0.35, order: 1 },
      { type: 'bar', data: hatchBars.map((b, k) => ({ x: b, y: [hatchLow[k], hatchHigh[k]] })), backgroundColor: '#4d6b4d', barThickness: 1, grouped: false, order: 2 }
    ]
  },
  options: baseOptions(-8.25, 7.5, { left: 2, top: 0, bottom: 0, right: 0 }),
  plugins: [{
    id: 'macdPanel',
    beforeDatasetsDraw(chart) {
      const { ctx, chartArea: a, scales: { y } } = chart;
      ctx.save();
      const yy = Math.round(y.getPixelForValue(0)) + 0.5;
      line(ctx, a.left, yy, a.right, yy, '#000', 1);
      ctx.restore();
    },
    afterDatasetsDraw(chart) {
      const { ctx, chartArea: a, scales: { x, y } } = chart;
      clipArea(ctx, a);
      ctx.font = 'bold 13px ' + FONT;
      ctx.textAlign = 'center';
      ctx.textBaseline = 'middle';
      macdLabels.forEach(l => {
        ctx.fillStyle = l[3] === 'b' ? '#2424c8' : '#8c8c8c';
        ctx.fillText(l[2], x.getPixelForValue(l[0]), y.getPixelForValue(l[1]));
      });
      ctx.strokeStyle = '#3a3acc';
      ctx.lineWidth = 1;
      ctx.beginPath();
      ctx.ellipse(x.getPixelForValue(macdEllipse[0]), y.getPixelForValue(macdEllipse[1]), 12, 6, 0, 0, Math.PI * 2);
      ctx.stroke();
      ctx.restore();
    },
    afterDraw(chart) {
      const { ctx, chartArea: a, scales: { y } } = chart;
      drawTag(ctx, a.right + 2, y.getPixelForValue(macdGreen[macdGreen.length - 1][1]) - 2, 44, '0.652', '#1b7a1b', '#fff');
    }
  }]
});

// ---------- buy/sell pressure panel with time axis ----------
new Chart(document.getElementById('cBsp'), {
  type: 'line',
  data: {
    datasets: [
      { data: bspGreen.map((v, k) => ({ x: k * 2, y: v })), borderColor: '#2a8a2a', borderWidth: 1, pointRadius: 0, tension: 0 },
      { data: bspRed.map((v, k) => ({ x: k * 2, y: v })), borderColor: '#e82020', borderWidth: 1, pointRadius: 0, tension: 0 }
    ]
  },
  options: baseOptions(28, 72, { left: 2, top: 6, bottom: 0, right: 0 }, null, {
    display: true,
    afterBuildTicks: s => { s.ticks = timeBars.map(v => ({ value: v })); },
    afterFit: s => { s.height = 55; },
    grid: { display: false, drawTicks: false },
    border: { display: false },
    ticks: { autoSkip: false, maxRotation: 0, padding: 8, color: '#000', font: { size: 12.5 }, callback: v => timeLabels[timeBars.indexOf(v)] }
  }),
  plugins: [{
    id: 'bspPanel',
    afterDatasetsDraw(chart) {
      const { ctx, chartArea: a } = chart;
      clipArea(ctx, a);
      ctx.fillStyle = '#111';
      ctx.textAlign = 'left';
      ctx.textBaseline = 'middle';
      ctx.font = '14px ' + FONT;
      ctx.fillText('BuySellPressure(ES 03-15 (2 Min))', a.left + 1, a.top + 13);
      ctx.font = '12px ' + FONT;
      ctx.fillText('\u00a9 2015 NinjaTrader, LLC', a.left + 1, a.top + 18);
      ctx.restore();
    },
    afterDraw(chart) {
      const { ctx, chartArea: a, scales: { y } } = chart;
      drawTag(ctx, a.right + 2, y.getPixelForValue(58.68) - 3, 44, '58.68', '#3a9a3a', '#fff');
      drawTag(ctx, a.right + 2, y.getPixelForValue(41.32), 44, '41.32', '#ff1a1a', '#fff');
    }
  }]
});
</script>
</body>
</html>
